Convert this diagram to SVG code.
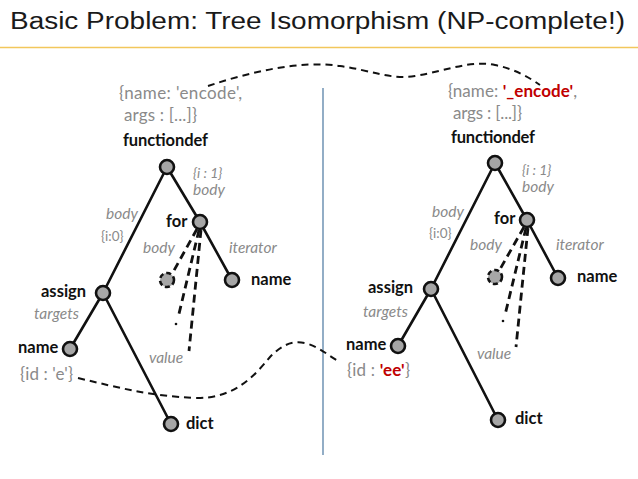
<svg xmlns="http://www.w3.org/2000/svg" width="638" height="479" viewBox="0 0 638 479">
<style>
.title{font-family:"Liberation Sans",Arial,sans-serif;font-size:23px;fill:#1a1a1a}
.nl{font-family:Lato,"Liberation Sans",sans-serif;font-weight:bold;font-size:16.5px;fill:#111}
.at{font-family:Lato,"Liberation Sans",sans-serif;font-size:17px;fill:#8a8a8a}
.el{font-family:Lato,"Liberation Sans",sans-serif;font-style:italic;font-size:15.5px;fill:#8a8a8a}
.el2{font-family:Lato,"Liberation Sans",sans-serif;font-style:italic;font-size:14px;fill:#8a8a8a}
.sm{font-family:Lato,"Liberation Sans",sans-serif;font-size:13.5px;fill:#8a8a8a}
.red{fill:#c00000;font-weight:bold}
.edge{stroke:#111;stroke-width:2.6;fill:none;stroke-linecap:round}
.dedge{stroke:#111;stroke-width:2.8;fill:none;stroke-dasharray:8 5}
.curve{stroke:#111;stroke-width:2;fill:none;stroke-dasharray:7 5}
.node{fill:#a6a6a6;stroke:#111;stroke-width:2.6}
.dnode{fill:#a6a6a6;stroke:#111;stroke-width:2.6;stroke-dasharray:5 3}
</style>
<rect width="638" height="479" fill="#fff"/>
<text class="title" x="10" y="29" textLength="615" lengthAdjust="spacingAndGlyphs">Basic Problem: Tree Isomorphism (NP-complete!)</text>
<line x1="0" y1="47.5" x2="638" y2="47.5" stroke="#f2c75c" stroke-width="1.5"/>
<line x1="323" y1="88" x2="323" y2="455" stroke="#4a77a0" stroke-width="1.2"/>
<g id="connectors">
<line class="edge" x1="167" y1="167" x2="103" y2="293"/>
<line class="edge" x1="167" y1="167" x2="200" y2="222"/>
<line class="edge" x1="200" y1="222" x2="232" y2="280"/>
<line class="edge" x1="103" y1="293" x2="70" y2="349"/>
<line class="edge" x1="103" y1="293" x2="171" y2="424"/>
<line class="dedge" x1="197" y1="229" x2="172" y2="274"/>
<line class="dedge" x1="199" y1="230" x2="178" y2="318"/>
<line class="dedge" x1="201" y1="230" x2="189" y2="351"/>
<circle cx="176" cy="324" r="1.3" fill="#111"/>
<line class="edge" x1="495" y1="163" x2="431" y2="289"/>
<line class="edge" x1="495" y1="163" x2="527" y2="220"/>
<line class="edge" x1="527" y1="220" x2="558" y2="278"/>
<line class="edge" x1="431" y1="289" x2="398" y2="346"/>
<line class="edge" x1="431" y1="289" x2="498" y2="420"/>
<line class="dedge" x1="524" y1="227" x2="499" y2="271"/>
<line class="dedge" x1="526" y1="228" x2="505" y2="315"/>
<line class="dedge" x1="528" y1="228" x2="516" y2="347"/>
<circle cx="503" cy="321" r="1.3" fill="#111"/>
<path class="curve" d="M208,86 C250,72 300,60 340,66 C370,70 390,80 415,76 C450,70 470,60 495,65 C515,69 530,78 540,85"/>
<path class="curve" d="M78,378 C120,388 150,396 195,398 C235,399 255,375 270,357 C280,347 290,340 305,343 C320,347 330,357 340,362"/>
</g>
<g id="L-functiondef">
<circle class="node" cx="167" cy="167" r="7"/>
<text class="nl" x="123" y="146" textLength="85">functiondef</text>
<text class="at" x="119" y="99" textLength="123">{name: 'encode',</text>
<text class="at" x="124" y="121" textLength="73">args : [...]}</text>
<text class="el2" x="193" y="178">{i : 1}</text>
<text class="el" x="193" y="195">body</text>
<text class="el" x="106" y="219">body</text>
<text class="sm" x="101" y="241">{i:0}</text>
</g>
<g id="L-for">
<circle class="node" cx="200" cy="222" r="7"/>
<text class="nl" x="166" y="227">for</text>
<text class="el" x="143" y="253">body</text>
<text class="el" x="229" y="253">iterator</text>
<text class="el" x="149" y="363">value</text>
</g>
<g id="L-hidden">
<circle class="dnode" cx="167" cy="280" r="7"/>
</g>
<g id="L-name-iter">
<circle class="node" cx="232" cy="280" r="7"/>
<text class="nl" x="251" y="285">name</text>
</g>
<g id="L-assign">
<circle class="node" cx="103" cy="293" r="7"/>
<text class="nl" x="41" y="297">assign</text>
<text class="el" x="34" y="319">targets</text>
</g>
<g id="L-name">
<circle class="node" cx="70" cy="349" r="7"/>
<text class="nl" x="18" y="353">name</text>
<text class="at" x="20" y="380" textLength="53">{id : 'e'}</text>
</g>
<g id="L-dict">
<circle class="node" cx="171" cy="424" r="7"/>
<text class="nl" x="186" y="429">dict</text>
</g>
<g id="R-functiondef">
<circle class="node" cx="495" cy="163" r="7"/>
<text class="nl" x="451" y="143" textLength="84">functiondef</text>
<text class="at" x="448" y="97" textLength="129">{name: <tspan class="red">'_encode'</tspan>,</text>
<text class="at" x="453" y="119" textLength="69">args : [...]}</text>
<text class="el2" x="522" y="175">{i : 1}</text>
<text class="el" x="522" y="192">body</text>
<text class="el" x="432" y="217">body</text>
<text class="sm" x="429" y="238">{i:0}</text>
</g>
<g id="R-for">
<circle class="node" cx="527" cy="220" r="7"/>
<text class="nl" x="494" y="224">for</text>
<text class="el" x="470" y="250">body</text>
<text class="el" x="556" y="250">iterator</text>
<text class="el" x="477" y="359">value</text>
</g>
<g id="R-hidden">
<circle class="dnode" cx="495" cy="277" r="7"/>
</g>
<g id="R-name-iter">
<circle class="node" cx="558" cy="278" r="7"/>
<text class="nl" x="577" y="282">name</text>
</g>
<g id="R-assign">
<circle class="node" cx="431" cy="289" r="7"/>
<text class="nl" x="368" y="293">assign</text>
<text class="el" x="363" y="317">targets</text>
</g>
<g id="R-name">
<circle class="node" cx="398" cy="346" r="7"/>
<text class="nl" x="346" y="350">name</text>
<text class="at" x="347" y="376" textLength="63">{id : <tspan class="red">'ee'</tspan>}</text>
</g>
<g id="R-dict">
<circle class="node" cx="498" cy="420" r="7"/>
<text class="nl" x="515" y="424">dict</text>
</g>
</svg>
